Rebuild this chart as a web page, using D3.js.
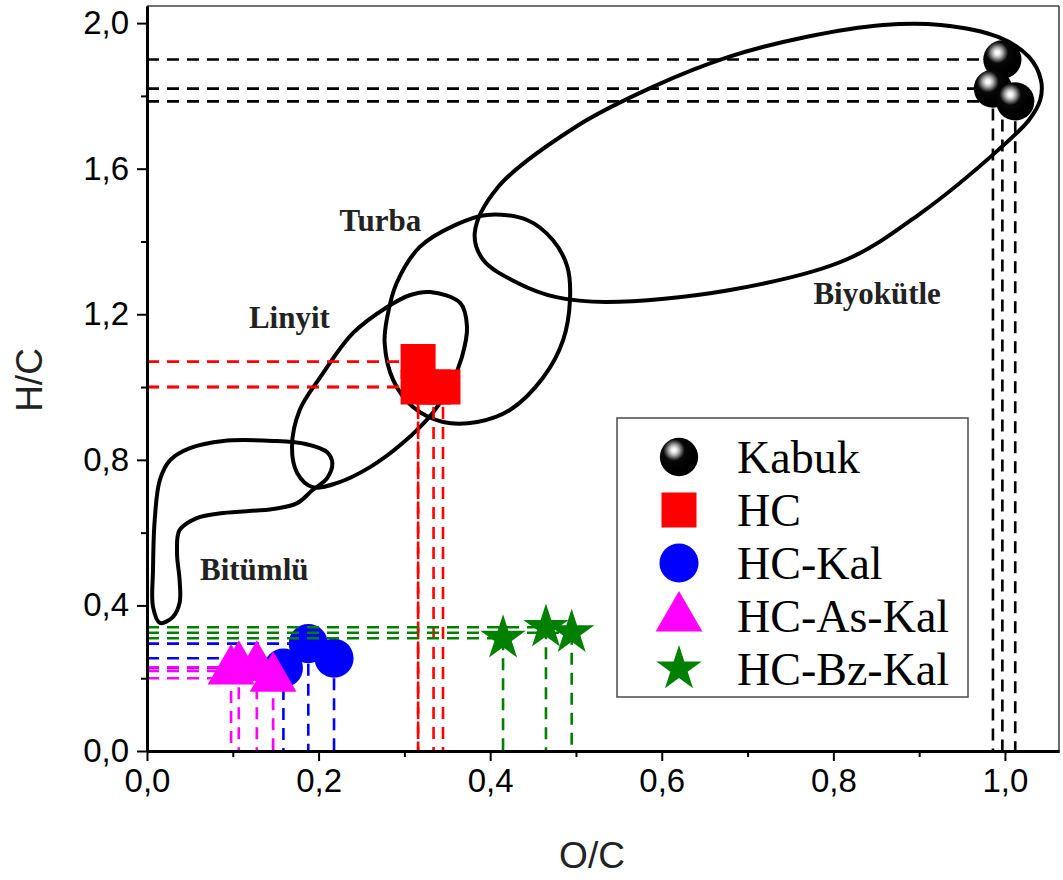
<!DOCTYPE html>
<html>
<head>
<meta charset="utf-8">
<script src="https://cdn.jsdelivr.net/npm/d3@7"></script>
<style>
  html, body { margin: 0; padding: 0; background: #fff; }
  svg { display: block; }
</style>
</head>
<body>
<svg id="chart" width="1063" height="880"></svg>
<script>
// ---- Series values (O/C, H/C) ----
const kabukOC = [0.997, 0.986, 1.012];
const kabukHC = [1.90, 1.82, 1.785];

const hcOC = [0.316, 0.316, 0.334, 0.345];
const hcHC = [1.07, 1.00, 1.00, 1.00];

const hcKalOC = [0.188, 0.159, 0.218];
const hcKalHC = [0.295, 0.228, 0.255];

const hcAsKalOC = [0.098, 0.107, 0.128, 0.147];
const hcAsKalHC = [0.22, 0.23, 0.23, 0.20];

const hcBzKalOC = [0.415, 0.465, 0.495];
const hcBzKalHC = [0.31, 0.34, 0.325];

const seriesNames = ["Kabuk", "HC", "HC-Kal", "HC-As-Kal", "HC-Bz-Kal"];

// ---- Axis ticks ----
const xMajor = [0, 0.2, 0.4, 0.6, 0.8, 1.0];
const xMinor = [0.1, 0.3, 0.5, 0.7, 0.9];
const yMajor = [0, 0.4, 0.8, 1.2, 1.6, 2.0];
const yMinor = [0.2, 0.6, 1.0, 1.4, 1.8];

// ---- Coal-rank region outlines (O/C, H/C) ----
const biyokutleRegion = [
  [0.382,1.423],[0.409,1.549],[0.499,1.714],[0.589,1.824],[0.678,1.907],
  [0.768,1.962],[0.858,1.995],[0.925,1.995],[0.992,1.962],[1.028,1.907],
  [1.042,1.843],[1.041,1.788],[1.028,1.734],[0.992,1.651],[0.902,1.478],
  [0.814,1.349],[0.678,1.266],[0.535,1.234],[0.477,1.247],[0.432,1.286],
  [0.392,1.349]
];
const turbaRegion = [
  [0.396,1.473],[0.443,1.459],[0.473,1.404],[0.490,1.330],[0.493,1.239],
  [0.485,1.129],[0.462,1.027],[0.423,0.937],[0.385,0.904],[0.345,0.904],
  [0.310,0.945],[0.287,1.019],[0.277,1.121],[0.280,1.192],[0.291,1.286],
  [0.318,1.385],[0.359,1.445]
];
const linyitRegion = [
  [0.330,1.261],[0.365,1.231],[0.373,1.165],[0.367,1.082],[0.353,1.000],
  [0.333,0.929],[0.298,0.846],[0.260,0.780],[0.221,0.736],[0.193,0.725],
  [0.175,0.764],[0.169,0.835],[0.178,0.937],[0.202,1.027],[0.240,1.148],
  [0.280,1.220],[0.307,1.253]
];
const bitumluRegion = [
  [0.015,0.352],[0.007,0.396],[0.007,0.497],[0.009,0.635],[0.015,0.745],
  [0.027,0.799],[0.050,0.832],[0.089,0.852],[0.147,0.852],[0.186,0.843],
  [0.210,0.821],[0.216,0.791],[0.210,0.750],[0.193,0.717],[0.175,0.681],
  [0.147,0.665],[0.089,0.654],[0.058,0.640],[0.038,0.607],[0.035,0.544],
  [0.038,0.470],[0.038,0.407],[0.030,0.368]
];

const regionNames = ["Biyokütle", "Turba", "Linyit", "Bitümlü"];
const regionLabelOC = [0.851, 0.272, 0.166, 0.125];
const regionLabelHC = [1.228, 1.429, 1.162, 0.470];

// ---- Layout ----
const svg = d3.select("#chart");
const x = d3.scaleLinear().domain([0, 1.063]).range([147, 1059]);
const y = d3.scaleLinear().domain([0, 2.047]).range([751, 6]);
const comma = v => d3.format(".1f")(v).replace(".", ",");

// radial gradient for the shaded spheres
const defs = svg.append("defs");
const grad = defs.append("radialGradient")
  .attr("id", "sphere").attr("cx", "0.37").attr("cy", "0.32").attr("r", "0.5")
  .attr("fx", "0.37").attr("fy", "0.32");
[["0%", "#ffffff"], ["12%", "#f2f2f2"], ["28%", "#a8a8a8"], ["42%", "#555"], ["56%", "#080808"], ["100%", "#000"]]
  .forEach(([o, c]) => grad.append("stop").attr("offset", o).attr("stop-color", c));

// frame (top & right)
svg.append("line").attr("x1", x.range()[0]).attr("x2", x.range()[1])
  .attr("y1", y.range()[1]).attr("y2", y.range()[1])
  .attr("stroke", "#444").attr("stroke-width", 1.6);
svg.append("line").attr("x1", x.range()[1]).attr("x2", x.range()[1])
  .attr("y1", y.range()[0]).attr("y2", y.range()[1])
  .attr("stroke", "#444").attr("stroke-width", 1.6);

// region outlines
const outline = d3.line().x(d => x(d[0])).y(d => y(d[1]))
  .curve(d3.curveCatmullRomClosed.alpha(0.5));
[biyokutleRegion, turbaRegion, linyitRegion, bitumluRegion].forEach(r => {
  svg.append("path").attr("d", outline(r))
    .attr("fill", "none").attr("stroke", "#000").attr("stroke-width", 4);
});

// region labels
regionNames.forEach((n, i) => {
  svg.append("text")
    .attr("x", x(regionLabelOC[i])).attr("y", y(regionLabelHC[i]))
    .attr("text-anchor", "middle")
    .attr("font-family", "'Liberation Serif', 'Times New Roman', serif")
    .attr("font-weight", "bold").attr("font-size", 31).attr("fill", "#222")
    .text(n);
});

// series with drop lines to both axes
const series = [
  { oc: kabukOC, hc: kabukHC, color: "#000", marker: "sphere" },
  { oc: hcOC, hc: hcHC, color: "#ff0000", marker: "square" },
  { oc: hcKalOC, hc: hcKalHC, color: "#0000ff", marker: "circle" },
  { oc: hcAsKalOC, hc: hcAsKalHC, color: "#ff00ff", marker: "triangle" },
  { oc: hcBzKalOC, hc: hcBzKalHC, color: "#008000", marker: "star" }
];

const symbolPath = {
  sphere: d3.symbol(d3.symbolCircle, 1150)(),
  square: d3.symbol(d3.symbolSquare, 1225)(),
  circle: d3.symbol(d3.symbolCircle, 1200)(),
  triangle: d3.symbol(d3.symbolTriangle, 950)(),
  star: d3.symbol(d3.symbolStar, 640)()
};

function drawMarker(g, s, px, py) {
  g.append("path").attr("d", symbolPath[s.marker])
    .attr("transform", `translate(${px},${py})`)
    .attr("fill", s.marker === "sphere" ? "url(#sphere)" : s.color);
}

series.forEach(s => {
  const g = svg.append("g");
  const pts = s.oc.map((v, i) => [v, s.hc[i]]);
  pts.forEach(([o, h]) => {
    g.append("line").attr("x1", x(0)).attr("x2", x(o)).attr("y1", y(h)).attr("y2", y(h))
      .attr("stroke", s.color).attr("stroke-width", 2.6).attr("stroke-dasharray", "12,8");
    g.append("line").attr("x1", x(o)).attr("x2", x(o)).attr("y1", y(h)).attr("y2", y(0))
      .attr("stroke", s.color).attr("stroke-width", 2.6).attr("stroke-dasharray", "12,8");
  });
  pts.forEach(([o, h]) => drawMarker(g, s, x(o), y(h)));
});

// axes
const axisFont = "'Liberation Sans', Arial, sans-serif";
function styleAxis(g) {
  g.select(".domain").attr("stroke", "#000").attr("stroke-width", 3);
  g.selectAll(".tick line").attr("stroke", "#000").attr("stroke-width", 2);
  g.selectAll(".tick text").attr("font-family", axisFont).attr("font-size", 33).attr("fill", "#000");
}
const xAxisG = svg.append("g").attr("transform", `translate(0,${y(0)})`)
  .call(d3.axisBottom(x).tickValues(xMajor).tickSize(10).tickPadding(8).tickFormat(comma).tickSizeOuter(0));
styleAxis(xAxisG);
svg.append("g").attr("transform", `translate(0,${y(0)})`)
  .call(d3.axisBottom(x).tickValues(xMinor).tickSize(6).tickFormat("").tickSizeOuter(0))
  .call(styleAxis);

const yAxisG = svg.append("g").attr("transform", `translate(${x(0)},0)`)
  .call(d3.axisLeft(y).tickValues(yMajor).tickSize(10).tickPadding(8).tickFormat(comma).tickSizeOuter(0));
styleAxis(yAxisG);
svg.append("g").attr("transform", `translate(${x(0)},0)`)
  .call(d3.axisLeft(y).tickValues(yMinor).tickSize(6).tickFormat("").tickSizeOuter(0))
  .call(styleAxis);

// axis titles
svg.append("text").attr("x", 592).attr("y", 868).attr("text-anchor", "middle")
  .attr("font-family", axisFont).attr("font-size", 37).attr("fill", "#222").text("O/C");
svg.append("text").attr("transform", "translate(42,380) rotate(-90)").attr("text-anchor", "middle")
  .attr("font-family", axisFont).attr("font-size", 37).attr("fill", "#222").text("H/C");

// legend
const legend = svg.append("g").attr("transform", "translate(617,418)");
legend.append("rect").attr("width", 351).attr("height", 279)
  .attr("fill", "#fff").attr("stroke", "#555").attr("stroke-width", 1.6);
seriesNames.forEach((n, i) => {
  const row = legend.append("g").attr("transform", `translate(0,${39 + i * 53})`);
  const s = series[i];
  drawMarker(row, s, 62, s.marker === "triangle" ? 2 : 0);
  row.append("text").attr("x", 120).attr("y", 16)
    .attr("font-family", "'Liberation Serif', 'Times New Roman', serif")
    .attr("font-size", 46).attr("fill", "#000").text(n);
});
</script>
</body>
</html>
